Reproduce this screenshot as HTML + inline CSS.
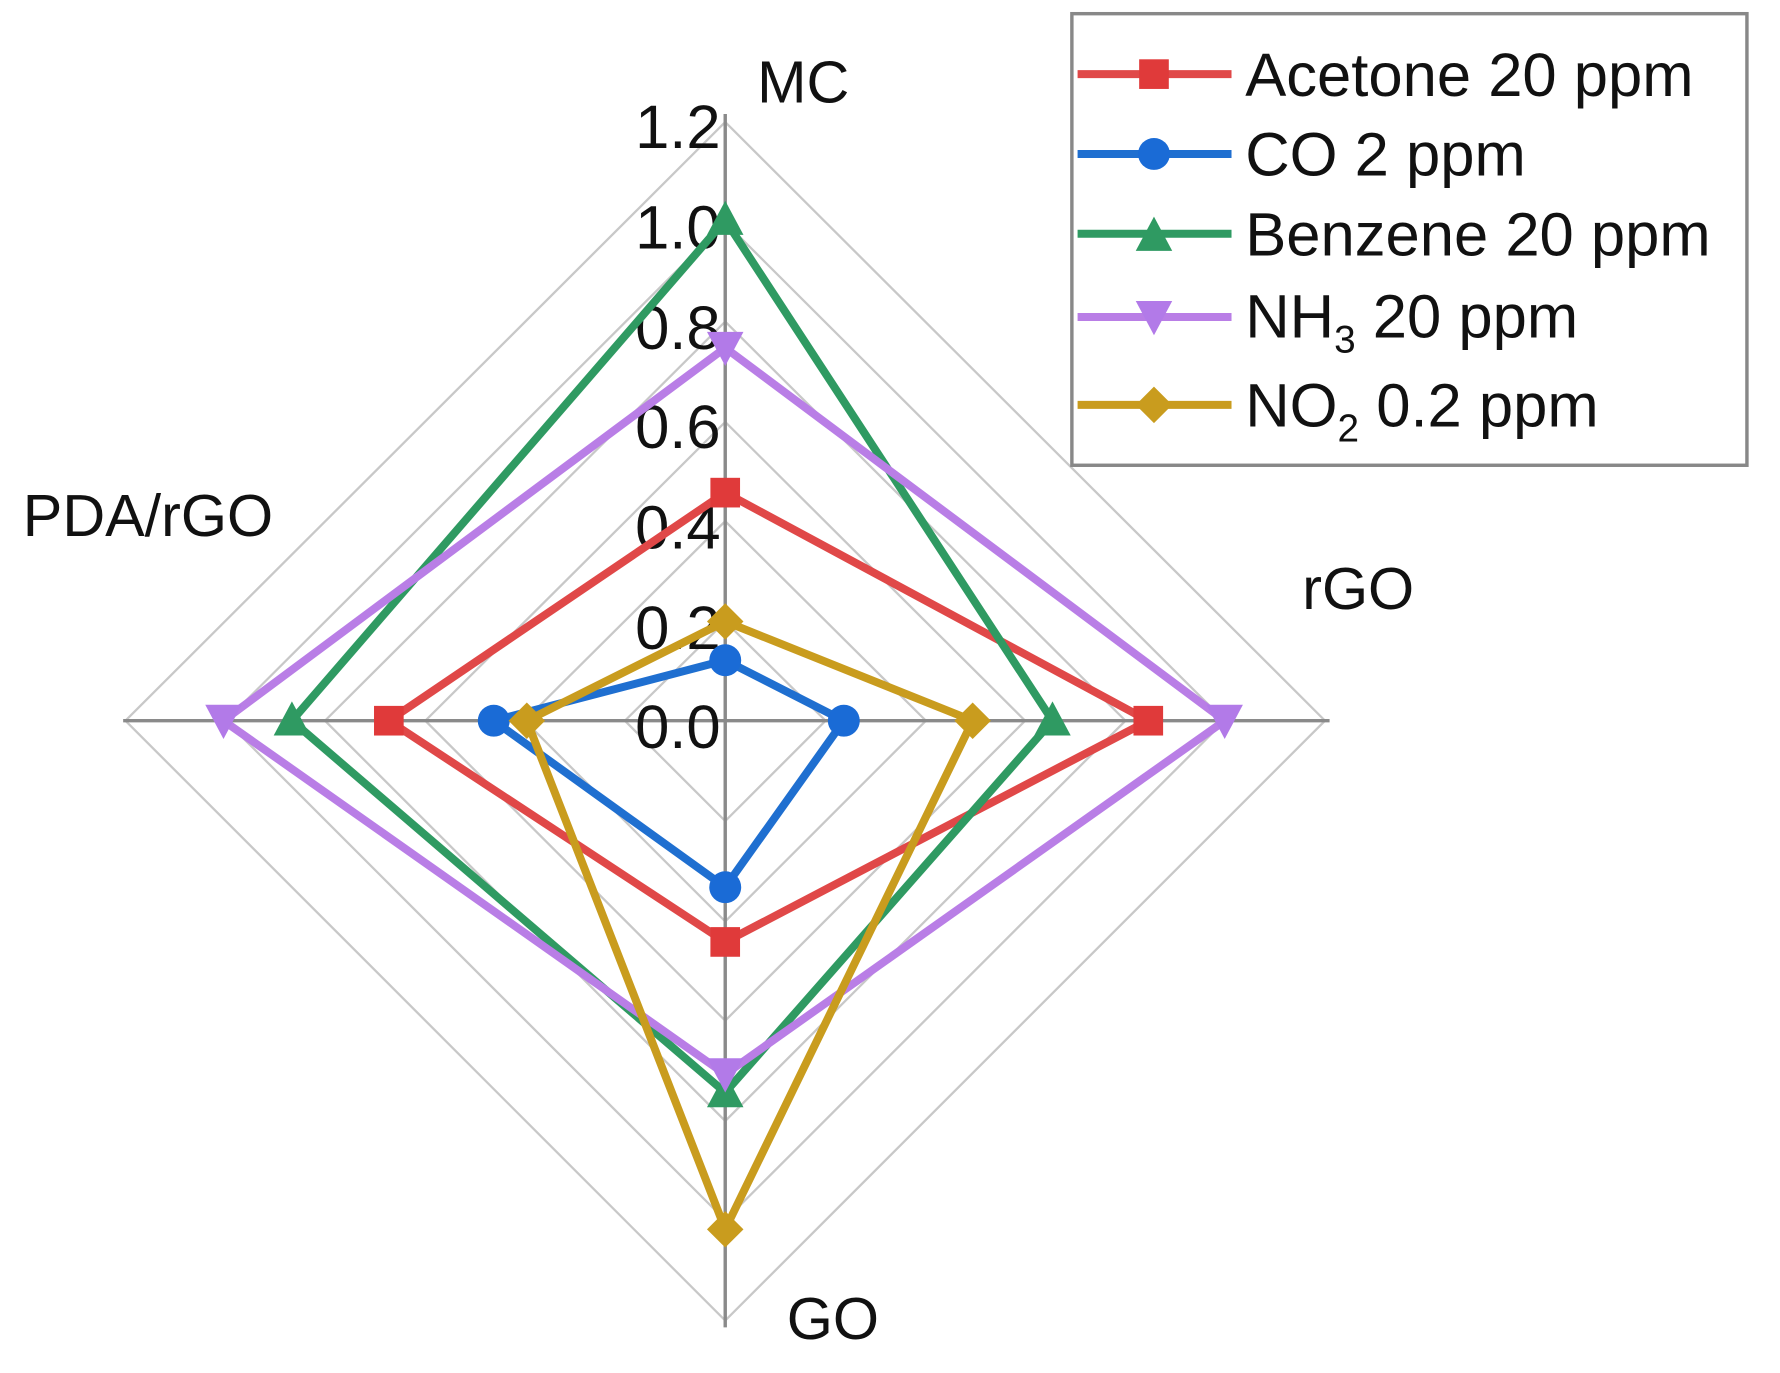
<!DOCTYPE html>
<html><head><meta charset="utf-8"><style>
html,body{margin:0;padding:0;background:#fff;}
svg{display:block;}
text{font-family:"Liberation Sans",sans-serif;fill:#111;}
</style></head><body>
<svg width="1780" height="1373" viewBox="0 0 1561 1204" preserveAspectRatio="none" xmlns="http://www.w3.org/2000/svg">
<g fill="none" stroke="#c8c8c8" stroke-width="2">
<polygon points="636,545 724,632 636,720 548,632"/>
<polygon points="636,457 812,632 636,808 460,632"/>
<polygon points="636,370 899,632 636,895 373,632"/>
<polygon points="636,282 987,632 636,983 285,632"/>
<polygon points="636,195 1074,632 636,1070 198,632"/>
<polygon points="636,107 1162,632 636,1158 110,632"/>
</g>
<g stroke="#8a8a8a" stroke-width="3">
<line x1="636" y1="100" x2="636" y2="1164"/>
<line x1="108" y1="632" x2="1166" y2="632"/>
</g>
<g font-size="54" text-anchor="end">
<text x="632" y="130">1.2</text>
<text x="632" y="218">1.0</text>
<text x="632" y="306">0.8</text>
<text x="632" y="393">0.6</text>
<text x="632" y="481">0.4</text>
<text x="632" y="569">0.2</text>
<text x="632" y="656">0.0</text>
</g>
<g font-size="52">
<text x="664" y="90">MC</text>
<text x="20" y="470">PDA/rGO</text>
<text x="1142" y="534">rGO</text>
<text x="690" y="1174">GO</text>
</g>
<g fill="none" stroke-width="7" stroke-linejoin="round">
<polygon stroke="#e04848" points="636,432 1007,632 636,826 341,632"/>
<polygon stroke="#1f6fd0" points="636,579 740,632 636,778 433,632"/>
<polygon stroke="#2f9a62" points="636,193 923,632 636,958 256,632"/>
<polygon stroke="#b97ee6" points="636,305 1074,632 636,942 196,632"/>
<polygon stroke="#c99c1e" points="636,545 853,632 636,1078 462,632"/>
</g>
<g fill="#e03a3a">
<rect x="623" y="419" width="26" height="26"/><rect x="994" y="619" width="26" height="26"/><rect x="623" y="813" width="26" height="26"/><rect x="328" y="619" width="26" height="26"/>
</g>
<g fill="#1a6bd6">
<circle cx="636" cy="579" r="14"/><circle cx="740" cy="632" r="14"/><circle cx="636" cy="778" r="14"/><circle cx="433" cy="632" r="14"/>
</g>
<g fill="#2f9a62">
<polygon points="636,176 652,206 620,206"/><polygon points="923,615 939,645 907,645"/><polygon points="636,941 652,971 620,971"/><polygon points="256,615 272,645 240,645"/>
</g>
<g fill="#b27ae8">
<polygon points="620,291 652,291 636,321"/><polygon points="1058,618 1090,618 1074,648"/><polygon points="620,928 652,928 636,958"/><polygon points="180,618 212,618 196,648"/>
</g>
<g fill="#c99c1e">
<polygon points="636,529 652,545 636,561 620,545"/><polygon points="853,616 869,632 853,648 837,632"/><polygon points="636,1062 652,1078 636,1094 620,1078"/><polygon points="462,616 478,632 462,648 446,632"/>
</g>
<rect x="940" y="12" width="592" height="396" fill="#fff" stroke="#888" stroke-width="3"/>
<g stroke-width="7">
<line x1="945" y1="65" x2="1080" y2="65" stroke="#e04848"/>
<line x1="945" y1="135" x2="1080" y2="135" stroke="#1f6fd0"/>
<line x1="945" y1="205" x2="1080" y2="205" stroke="#2f9a62"/>
<line x1="945" y1="278" x2="1080" y2="278" stroke="#b97ee6"/>
<line x1="945" y1="355" x2="1080" y2="355" stroke="#c99c1e"/>
</g>
<rect x="999" y="52" width="26" height="26" fill="#e03a3a"/>
<circle cx="1012" cy="135" r="14" fill="#1a6bd6"/>
<polygon points="1012,190 1028,220 996,220" fill="#2f9a62"/>
<polygon points="996,264 1028,264 1012,294" fill="#b27ae8"/>
<polygon points="1012,339 1028,355 1012,371 996,355" fill="#c99c1e"/>
<g font-size="54">
<text x="1092" y="84">Acetone 20 ppm</text>
<text x="1092" y="154">CO 2 ppm</text>
<text x="1092" y="224">Benzene 20 ppm</text>
<text x="1092" y="296">NH<tspan font-size="34" dy="13">3</tspan><tspan dy="-13"> 20 ppm</tspan></text>
<text x="1092" y="374">NO<tspan font-size="34" dy="13">2</tspan><tspan dy="-13"> 0.2 ppm</tspan></text>
</g>
</svg>
</body></html>
